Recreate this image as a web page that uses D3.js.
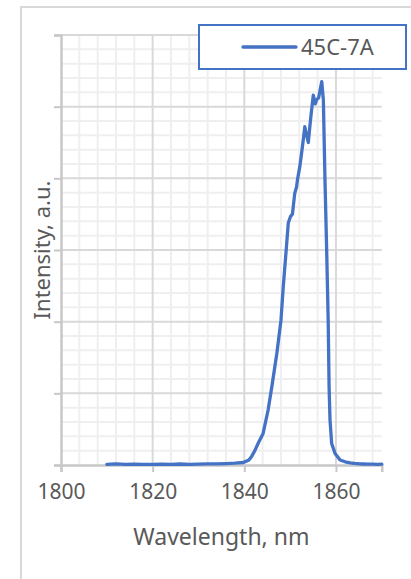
<!DOCTYPE html>
<html>
<head>
<meta charset="utf-8">
<script src="https://cdn.jsdelivr.net/npm/d3@7"></script>
<style>
html,body{margin:0;padding:0;background:#fff;}
svg{display:block;}
</style>
</head>
<body>
<svg id="chart" width="411" height="579"></svg>
<script>
const seriesName = "45C-7A";
const wavelength = [1810,1812,1814,1816,1818,1820,1822,1824,1826,1828,1830,1832,1834,1836,1838,1839.8,1841,1841.6,1842.3,1843,1844.1,1845.2,1846,1847.1,1848,1848.5,1849.2,1849.6,1850.1,1850.5,1851,1851.4,1851.6,1852.1,1852.7,1853.2,1853.6,1853.96,1854.5,1855.05,1855.5,1855.8,1856.2,1856.9,1857.25,1857.6,1857.97,1858.3,1858.5,1858.7,1859.06,1859.8,1860.9,1862,1863.1,1864,1865.2,1866,1867,1868,1869,1870];
const intensity = [0.01,0.015,0.008,0.012,0.01,0.009,0.012,0.01,0.014,0.01,0.013,0.016,0.015,0.02,0.025,0.035,0.07,0.12,0.2,0.3,0.44,0.77,1.09,1.56,2.02,2.49,3.05,3.38,3.47,3.5,3.79,3.88,3.98,4.16,4.45,4.72,4.6,4.5,4.85,5.16,5.04,5.1,5.12,5.35,5.09,3.98,3.0,2.02,1.09,0.63,0.3,0.16,0.07,0.045,0.03,0.022,0.015,0.014,0.012,0.013,0.01,0.012];
const xTicks = [1800,1820,1840,1860];
const xLabel = "Wavelength, nm";
const yLabel = "Intensity, a.u.";

const svg = d3.select("#chart");
const font = "'Noto Sans', 'Open Sans', sans-serif";
const L = 61, R = 381.8, T = 35, B = 465;

// outer chart border
svg.append("rect").attr("x",21).attr("y",7).attr("width",430).attr("height",600)
  .attr("fill","#fff").attr("stroke","#d9d9d9").attr("stroke-width",2);

const x = d3.scaleLinear().domain([1800,1870]).range([L,R]);
const y = d3.scaleLinear().domain([0,6]).range([B,T]);

// minor grid
const xMinor = d3.range(1804,1870,4).filter(v => v % 20 !== 0);
const yMinor = d3.range(0.2,6,0.2).filter(v => Math.abs(v - Math.round(v)) > 1e-6);
svg.append("g").selectAll("line").data(xMinor).join("line")
  .attr("x1",d=>x(d)).attr("x2",d=>x(d)).attr("y1",T).attr("y2",B)
  .attr("stroke","#efefef").attr("stroke-width",2);
svg.append("g").selectAll("line").data(yMinor).join("line")
  .attr("x1",L).attr("x2",R).attr("y1",d=>y(d)).attr("y2",d=>y(d))
  .attr("stroke","#efefef").attr("stroke-width",2);

// major grid
svg.append("g").selectAll("line").data(xTicks.filter(v=>v>1800)).join("line")
  .attr("x1",d=>x(d)).attr("x2",d=>x(d)).attr("y1",T).attr("y2",B)
  .attr("stroke","#d9d9d9").attr("stroke-width",2);
svg.append("g").selectAll("line").data(d3.range(1,7)).join("line")
  .attr("x1",L).attr("x2",R).attr("y1",d=>y(d)).attr("y2",d=>y(d))
  .attr("stroke","#d9d9d9").attr("stroke-width",2);

// axes
const xAxis = d3.axisBottom(x).tickValues(xTicks).tickSize(7).tickPadding(12).tickFormat(d3.format("d"));
const gx = svg.append("g").attr("transform",`translate(0,${B})`).call(xAxis);
gx.select(".domain").attr("stroke","#c8c8c8").attr("stroke-width",2.5);
gx.selectAll(".tick line").attr("stroke","#c8c8c8").attr("stroke-width",2);
gx.selectAll("text").attr("font-family",font).attr("font-size","21px").attr("fill","#595959");

const yAxis = d3.axisLeft(y).tickValues(d3.range(0,7)).tickSize(7).tickFormat("");
const gy = svg.append("g").attr("transform",`translate(${L},0)`).call(yAxis);
gy.select(".domain").attr("stroke","#c8c8c8").attr("stroke-width",2.5);
gy.selectAll(".tick line").attr("stroke","#c8c8c8").attr("stroke-width",2);

// data line
const data = wavelength.map((w,i)=>({w, v:intensity[i]}));
svg.append("path").datum(data)
  .attr("fill","none").attr("stroke","#4472C4").attr("stroke-width",3.3)
  .attr("stroke-linejoin","round").attr("stroke-linecap","round")
  .attr("d", d3.line().x(d=>x(d.w)).y(d=>y(d.v)));

// axis titles
svg.append("text").attr("x",(L+R)/2).attr("y",545).attr("text-anchor","middle")
  .attr("font-family",font).attr("font-size","23px").attr("fill","#595959").text(xLabel);
svg.append("text").attr("transform",`translate(50,${(T+B)/2}) rotate(-90)`).attr("text-anchor","middle")
  .attr("font-family",font).attr("font-size","22px").attr("fill","#595959").text(yLabel);

// legend
const lg = svg.append("g");
lg.append("rect").attr("x",199).attr("y",25).attr("width",207).attr("height",44)
  .attr("fill","#fff").attr("stroke","#4472C4").attr("stroke-width",2);
lg.append("line").attr("x1",243).attr("x2",296).attr("y1",47).attr("y2",47)
  .attr("stroke","#4472C4").attr("stroke-width",3.3).attr("stroke-linecap","round");
lg.append("text").attr("x",301).attr("y",55).attr("font-family",font).attr("font-size","22px")
  .attr("fill","#595959").text(seriesName);
</script>
</body>
</html>
